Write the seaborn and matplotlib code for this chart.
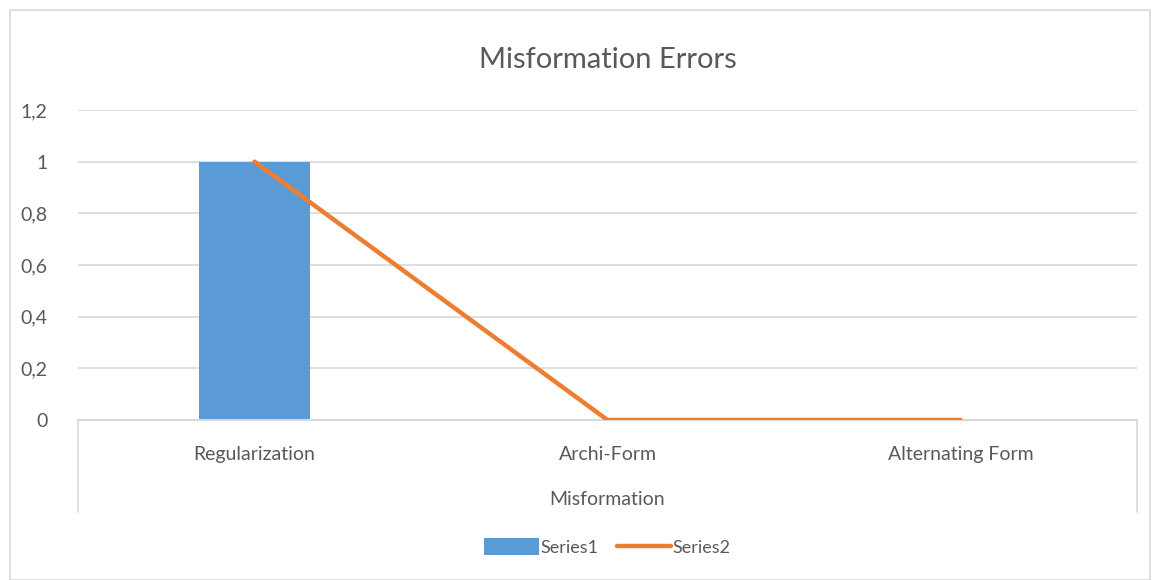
import matplotlib
matplotlib.use("Agg")
import matplotlib.pyplot as plt
import seaborn as sns
import pandas as pd
from matplotlib.patches import Rectangle
from matplotlib.ticker import FuncFormatter

# data
categories = ["Regularization", "Archi-Form", "Alternating Form"]
series1 = [1, 0, 0]
series2 = [1, 0, 0]
yticks = [0, 0.2, 0.4, 0.6, 0.8, 1.0, 1.2]

df = pd.DataFrame({"cat": categories, "Series1": series1, "Series2": series2})

sns.set_style("white")
plt.rcParams["font.family"] = ["Lato", "DejaVu Sans"]

fig = plt.figure(figsize=(11.56, 5.8), dpi=100)
ax = fig.add_axes([0.0675, 0.2759, 0.916, 0.5345])

sns.barplot(data=df, x="cat", y="Series1", color="#5B9BD5", width=0.315,
            saturation=1, linewidth=0, ax=ax, label="Series1", zorder=2)
sns.lineplot(data=df, x="cat", y="Series2", color="#ED7D31", linewidth=3.2,
             sort=False, ax=ax, label="Series2", zorder=3)

ax.set_xlim(-0.5, 2.5)
ax.set_ylim(0, 1.2)
ax.set_yticks(yticks)
ax.yaxis.set_major_formatter(FuncFormatter(lambda v, p: f"{v:g}".replace(".", ",")))
ax.grid(axis="y", color="#D9D9D9", linewidth=1.2, zorder=0)
ax.set_axisbelow(True)
for s in ["left", "right", "top"]:
    ax.spines[s].set_visible(False)
ax.spines["bottom"].set_color("#D9D9D9")
ax.spines["bottom"].set_linewidth(1.5)
ax.tick_params(axis="y", length=0, labelsize=14, labelcolor="#595959", pad=22)
ax.tick_params(axis="x", length=0, labelsize=14, labelcolor="#595959", pad=19)
ax.set_xlabel("Misformation", fontsize=14, color="#595959", labelpad=20)
ax.set_ylabel("")

# category frame lines below the axis
for xf in [0, 1]:
    ax.plot([xf, xf], [0, -0.297], transform=ax.transAxes, color="#D9D9D9",
            linewidth=1.2, clip_on=False)

ax.set_title("Misformation Errors", fontsize=21, color="#595959", pad=30)

handles, labels = ax.get_legend_handles_labels()
order = [labels.index("Series1"), labels.index("Series2")]
leg = ax.legend([handles[i] for i in order], [labels[i] for i in order],
                loc="center", bbox_to_anchor=(0.5, -0.41), ncol=2, frameon=False,
                fontsize=13, handlelength=3.0, handleheight=1.0,
                handletextpad=0.1, columnspacing=1.0)
for t in leg.get_texts():
    t.set_color("#595959")

fig.patches.append(Rectangle((10 / 1156, 0), 1140 / 1156, 570 / 580,
                             transform=fig.transFigure, fill=False,
                             edgecolor="#D9D9D9", linewidth=1.2))

fig.savefig("out.png", dpi=100)
